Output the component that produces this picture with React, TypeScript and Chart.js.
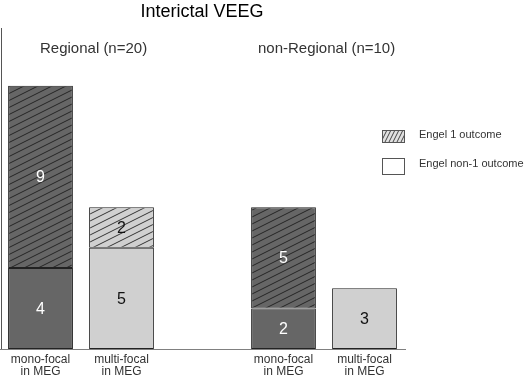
import React, { useEffect, useRef } from "react";
import { Chart, registerables } from "chart.js";

Chart.register(...registerables);

const categories: (string | string[])[] = [
  ["mono-focal", "in MEG"],
  ["multi-focal", "in MEG"],
  "",
  ["mono-focal", "in MEG"],
  ["multi-focal", "in MEG"],
];
const engelNon1: (number | null)[] = [4, 5, null, 2, 3];
const engel1: (number | null)[] = [9, 2, null, 5, null];
const barKind: (string | null)[] = ["mono", "multi", null, "mono", "multi"];
const groupLabels = ["Regional (n=20)", "non-Regional (n=10)"];
const legendLabels = ["Engel 1 outcome", "Engel non-1 outcome"];
const titleText = "Interictal VEEG";

const DARK = "#666666";
const LIGHT = "#d0d0d0";

function makeHatch(bg: string, line: string, w: number, h: number, lw: number) {
  const c = document.createElement("canvas");
  c.width = w;
  c.height = h;
  const g = c.getContext("2d")!;
  g.fillStyle = bg;
  g.fillRect(0, 0, w, h);
  g.strokeStyle = line;
  g.lineWidth = lw;
  for (let k = -3; k <= 3; k++) {
    g.beginPath();
    g.moveTo(-w, 2 * h + k * h);
    g.lineTo(2 * w, -h + k * h);
    g.stroke();
  }
  return g.createPattern(c, "repeat") as CanvasPattern;
}

export default function App() {
  const ref = useRef<HTMLCanvasElement>(null);
  useEffect(() => {
    const canvas = ref.current!;
    const hatchDark = makeHatch(DARK, "#262626", 14, 7, 1);
    const hatchLight = makeHatch(LIGHT, "#333333", 14, 7, 1);
    const hatchLegend = makeHatch("#e0e0e0", "#444444", 4, 8, 1);

    const overlay = {
      id: "overlay",
      afterDraw(chart: any) {
        const ctx = chart.ctx as CanvasRenderingContext2D;
        const area = chart.chartArea;
        ctx.save();
        // left axis line
        ctx.strokeStyle = "#555555";
        ctx.lineWidth = 1;
        ctx.beginPath();
        ctx.moveTo(1.5, area.top + 3);
        ctx.lineTo(1.5, area.bottom);
        ctx.stroke();

        // title
        ctx.fillStyle = "#000";
        ctx.font = "18px Arial, 'Liberation Sans', sans-serif";
        ctx.textAlign = "center";
        ctx.textBaseline = "alphabetic";
        ctx.fillText(titleText, 202, 17);

        // group labels
        ctx.fillStyle = "#333";
        ctx.font = "15px Arial, 'Liberation Sans', sans-serif";
        ctx.textAlign = "left";
        ctx.fillText(groupLabels[0], 40, 53);
        ctx.fillText(groupLabels[1], 258, 53);

        // value labels
        ctx.font = "16px Arial, 'Liberation Sans', sans-serif";
        ctx.textAlign = "center";
        ctx.textBaseline = "middle";
        chart.data.datasets.forEach((ds: any, di: number) => {
          const meta = chart.getDatasetMeta(di);
          meta.data.forEach((bar: any, i: number) => {
            const v = ds.data[i];
            if (v == null) return;
            const cy = (bar.y + bar.base) / 2;
            ctx.fillStyle = barKind[i] === "mono" ? "#ffffff" : "#111111";
            ctx.fillText(String(v), bar.x, cy + 1);
          });
        });

        // legend
        ctx.lineWidth = 1;
        ctx.fillStyle = hatchLegend;
        ctx.fillRect(382, 130, 23, 13);
        ctx.strokeStyle = "#555";
        ctx.strokeRect(382.5, 130.5, 22, 12);
        ctx.fillStyle = "#fff";
        ctx.fillRect(382, 158, 23, 17);
        ctx.strokeRect(382.5, 158.5, 22, 16);
        ctx.fillStyle = "#333";
        ctx.font = "11px Arial, 'Liberation Sans', sans-serif";
        ctx.textAlign = "left";
        ctx.textBaseline = "middle";
        ctx.fillText(legendLabels[0], 419, 135);
        ctx.fillText(legendLabels[1], 419, 164);
        ctx.restore();
      },
    };

    const chart = new Chart(canvas, {
      type: "bar",
      data: {
        labels: categories as any,
        datasets: [
          {
            label: legendLabels[1],
            data: engelNon1,
            backgroundColor: barKind.map((k) => (k === "mono" ? DARK : LIGHT)),
            borderColor: "#222222",
            borderWidth: 1,
            borderSkipped: false,
            barPercentage: 0.8,
            categoryPercentage: 1,
          },
          {
            label: legendLabels[0],
            data: engel1,
            backgroundColor: barKind.map((k) => (k === "mono" ? hatchDark : hatchLight)) as any,
            borderColor: "#222222",
            borderWidth: 1,
            borderSkipped: false,
            barPercentage: 0.8,
            categoryPercentage: 1,
          },
        ],
      },
      options: {
        responsive: false,
        animation: false,
        layout: { padding: { left: 0, right: 123, top: 25, bottom: 0 } },
        plugins: { legend: { display: false }, tooltip: { enabled: false }, title: { display: false } },
        scales: {
          x: {
            stacked: true,
            grid: { display: false, drawTicks: false },
            border: { display: true, color: "#808080", width: 1 },
            ticks: {
              autoSkip: false,
              maxRotation: 0,
              padding: 5,
              color: "#333",
              font: { family: "Arial, 'Liberation Sans', sans-serif", size: 12, lineHeight: 1.0 },
            },
            afterFit: (s: any) => {
              s.height = 35;
            },
          },
          y: {
            stacked: true,
            display: false,
            min: 0,
            max: 16,
          },
        },
      },
      plugins: [overlay],
    });
    return () => chart.destroy();
  }, []);
  return (
    <div style={{ position: "absolute", left: 0, top: 0, width: 528, height: 384, background: "#fff" }}>
      <canvas ref={ref} width={528} height={384} />
    </div>
  );
}
